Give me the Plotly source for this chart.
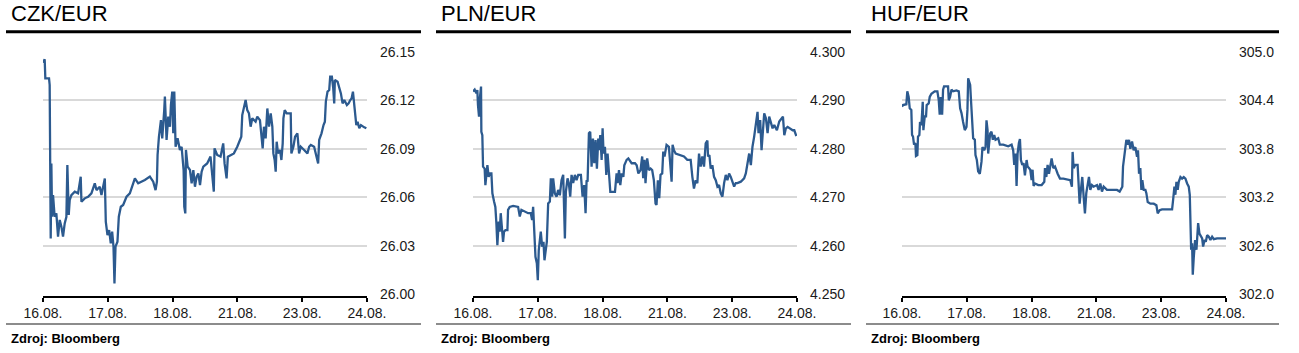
import plotly.graph_objects as go

# ---------------- data ----------------
day_labels = ["16.08.", "17.08.", "18.08.", "21.08.", "23.08.", "24.08."]

czk_day = [0.000, 0.026, 0.036, 0.093, 0.103, 0.119, 0.129, 0.140, 0.155, 0.180, 0.206, 0.232, 0.258, 0.284,
           0.309, 0.335, 0.361, 0.376, 0.397, 0.412, 0.438, 0.490, 0.541, 0.582, 0.593, 0.644, 0.696, 0.747,
           0.799, 0.825, 0.876, 0.902, 0.954, 0.969, 0.995, 1.021, 1.046, 1.067, 1.088, 1.103, 1.119, 1.149,
           1.170, 1.201, 1.237, 1.289, 1.340, 1.392, 1.418, 1.469, 1.521, 1.572, 1.649, 1.701, 1.737, 1.758,
           1.768, 1.789, 1.820, 1.840, 1.871, 1.881, 1.907, 1.933, 1.959, 1.974, 1.995, 2.010, 2.026, 2.046,
           2.077, 2.113, 2.139, 2.155, 2.170, 2.180, 2.196, 2.206, 2.232, 2.268, 2.294, 2.320, 2.345, 2.371,
           2.397, 2.423, 2.448, 2.474, 2.500, 2.533, 2.585, 2.611, 2.636, 2.647, 2.688, 2.740, 2.781, 2.802,
           2.833, 2.853, 2.894, 2.946, 2.998, 3.039, 3.060, 3.075, 3.101, 3.127, 3.152, 3.178, 3.204, 3.230,
           3.281, 3.307, 3.348, 3.369, 3.390, 3.410, 3.436, 3.462, 3.488, 3.514, 3.539, 3.555, 3.575, 3.591,
           3.606, 3.627, 3.658, 3.679, 3.699, 3.710, 3.730, 3.761, 3.797, 3.823, 3.833, 3.864, 3.890, 3.926,
           3.952, 3.978, 4.030, 4.081, 4.107, 4.133, 4.184, 4.210, 4.236, 4.246, 4.262, 4.298, 4.329, 4.350,
           4.365, 4.391, 4.417, 4.432, 4.458, 4.479, 4.494, 4.504, 4.546, 4.571, 4.597, 4.623, 4.649, 4.690,
           4.716, 4.742, 4.762, 4.783, 4.804, 4.819, 4.835, 4.855, 4.881, 4.907, 4.933, 4.958, 4.990]
czk_val = [26.1432, 26.1453, 26.1335, 26.1335, 26.1294, 26.0345, 26.0809, 26.0479, 26.0613, 26.0479, 26.0500,
           26.0356, 26.0459, 26.0418, 26.0356, 26.0438, 26.0479, 26.0799, 26.0490, 26.0582, 26.0613, 26.0634,
           26.0624, 26.0727, 26.0572, 26.0593, 26.0603, 26.0624, 26.0686, 26.0644, 26.0665, 26.0613, 26.0716,
           26.0448, 26.0366, 26.0397, 26.0314, 26.0387, 26.0294, 26.0067, 26.0294, 26.0325, 26.0479, 26.0541,
           26.0552, 26.0603, 26.0624, 26.0696, 26.0716, 26.0686, 26.0696, 26.0706, 26.0727, 26.0696, 26.0644,
           26.0696, 26.0861, 26.0974, 26.1077, 26.0964, 26.1139, 26.1222, 26.0954, 26.1098, 26.1036, 26.1170,
           26.1253, 26.0995, 26.1253, 26.0912, 26.0964, 26.0892, 26.0912, 26.0809, 26.0768, 26.0541, 26.0500,
           26.0892, 26.0789, 26.0768, 26.0686, 26.0768, 26.0665, 26.0727, 26.0747, 26.0675, 26.0758, 26.0789,
           26.0799, 26.0809, 26.0851, 26.0737, 26.0634, 26.0902, 26.0861, 26.0851, 26.0933, 26.0809, 26.0716,
           26.0851, 26.0861, 26.0871, 26.0912, 26.0954, 26.0974, 26.1108, 26.1149, 26.1201, 26.1139, 26.1119,
           26.1036, 26.1088, 26.1067, 26.1098, 26.1077, 26.0995, 26.0902, 26.1036, 26.0964, 26.1149, 26.1036,
           26.1119, 26.1036, 26.0871, 26.0830, 26.0758, 26.0943, 26.0871, 26.0892, 26.0830, 26.0933, 26.1088,
           26.1139, 26.1119, 26.1119, 26.1119, 26.0871, 26.0912, 26.0974, 26.0995, 26.0871, 26.0912, 26.0892,
           26.0871, 26.0912, 26.0923, 26.0912, 26.0871, 26.0840, 26.0809, 26.0954, 26.0995, 26.1046, 26.1067,
           26.1191, 26.1253, 26.1263, 26.1345, 26.1345, 26.1273, 26.1180, 26.1325, 26.1314, 26.1284, 26.1242,
           26.1180, 26.1201, 26.1170, 26.1180, 26.1201, 26.1211, 26.1253, 26.1180, 26.1098, 26.1046, 26.1067,
           26.1026, 26.1046, 26.1036, 26.1032, 26.1026]

pln_day = [0.000, 0.026, 0.052, 0.067, 0.077, 0.093, 0.108, 0.124, 0.129, 0.144, 0.155, 0.180, 0.191, 0.206,
           0.222, 0.242, 0.258, 0.284, 0.299, 0.325, 0.345, 0.361, 0.376, 0.397, 0.412, 0.428, 0.448, 0.464,
           0.479, 0.500, 0.531, 0.541, 0.567, 0.619, 0.696, 0.722, 0.747, 0.799, 0.851, 0.892, 0.912, 0.928,
           0.943, 0.964, 0.985, 1.000, 1.015, 1.046, 1.067, 1.088, 1.103, 1.119, 1.139, 1.160, 1.186, 1.201,
           1.222, 1.237, 1.263, 1.289, 1.314, 1.340, 1.366, 1.392, 1.418, 1.433, 1.459, 1.479, 1.500, 1.521,
           1.546, 1.572, 1.598, 1.624, 1.665, 1.691, 1.716, 1.737, 1.753, 1.768, 1.789, 1.809, 1.830, 1.851,
           1.871, 1.892, 1.912, 1.933, 1.948, 1.964, 1.985, 2.000, 2.015, 2.036, 2.057, 2.077, 2.098, 2.119,
           2.165, 2.191, 2.216, 2.232, 2.253, 2.273, 2.294, 2.320, 2.335, 2.371, 2.397, 2.448, 2.500, 2.526,
           2.552, 2.585, 2.611, 2.626, 2.647, 2.662, 2.688, 2.714, 2.740, 2.765, 2.791, 2.817, 2.832, 2.853,
           2.874, 2.894, 2.920, 2.936, 2.956, 2.987, 3.023, 3.049, 3.065, 3.080, 3.101, 3.127, 3.204, 3.256,
           3.307, 3.359, 3.385, 3.410, 3.436, 3.462, 3.488, 3.514, 3.539, 3.565, 3.591, 3.617, 3.627, 3.648,
           3.668, 3.694, 3.720, 3.746, 3.772, 3.797, 3.823, 3.849, 3.875, 3.901, 3.926, 3.952, 3.978, 4.004,
           4.030, 4.055, 4.081, 4.133, 4.184, 4.210, 4.236, 4.262, 4.288, 4.313, 4.339, 4.365, 4.391, 4.406,
           4.432, 4.453, 4.473, 4.494, 4.520, 4.546, 4.571, 4.597, 4.623, 4.649, 4.690, 4.726, 4.762, 4.783,
           4.804, 4.829, 4.855, 4.897, 4.933, 4.958, 4.984, 4.990]
pln_val = [4.2918, 4.2922, 4.2914, 4.2921, 4.2890, 4.2866, 4.2907, 4.2928, 4.2835, 4.2828, 4.2763, 4.2759,
           4.2725, 4.2749, 4.2766, 4.2742, 4.2749, 4.2749, 4.2708, 4.2691, 4.2680, 4.2646, 4.2601, 4.2650,
           4.2629, 4.2667, 4.2619, 4.2608, 4.2629, 4.2632, 4.2632, 4.2674, 4.2680, 4.2682, 4.2680, 4.2660,
           4.2674, 4.2670, 4.2667, 4.2667, 4.2653, 4.2680, 4.2646, 4.2577, 4.2564, 4.2529, 4.2591, 4.2629,
           4.2598, 4.2608, 4.2570, 4.2591, 4.2608, 4.2687, 4.2691, 4.2739, 4.2701, 4.2739, 4.2708, 4.2701,
           4.2715, 4.2704, 4.2735, 4.2746, 4.2615, 4.2711, 4.2739, 4.2729, 4.2701, 4.2746, 4.2729, 4.2746,
           4.2735, 4.2746, 4.2746, 4.2701, 4.2725, 4.2667, 4.2735, 4.2732, 4.2832, 4.2835, 4.2763, 4.2821,
           4.2770, 4.2818, 4.2759, 4.2821, 4.2797, 4.2828, 4.2777, 4.2842, 4.2790, 4.2804, 4.2746, 4.2790,
           4.2746, 4.2711, 4.2711, 4.2711, 4.2749, 4.2729, 4.2756, 4.2725, 4.2749, 4.2742, 4.2766, 4.2777,
           4.2780, 4.2770, 4.2770, 4.2766, 4.2749, 4.2756, 4.2784, 4.2739, 4.2777, 4.2729, 4.2780, 4.2756,
           4.2759, 4.2756, 4.2735, 4.2687, 4.2684, 4.2735, 4.2698, 4.2746, 4.2749, 4.2794, 4.2784, 4.2808,
           4.2804, 4.2766, 4.2732, 4.2808, 4.2797, 4.2790, 4.2787, 4.2784, 4.2777, 4.2777, 4.2742, 4.2718,
           4.2735, 4.2729, 4.2790, 4.2763, 4.2784, 4.2763, 4.2811, 4.2817, 4.2784, 4.2787, 4.2759, 4.2766,
           4.2742, 4.2735, 4.2722, 4.2725, 4.2708, 4.2701, 4.2729, 4.2746, 4.2735, 4.2749, 4.2742, 4.2732,
           4.2722, 4.2729, 4.2729, 4.2732, 4.2739, 4.2749, 4.2770, 4.2790, 4.2766, 4.2804, 4.2825, 4.2852,
           4.2876, 4.2832, 4.2859, 4.2797, 4.2832, 4.2873, 4.2863, 4.2832, 4.2866, 4.2856, 4.2842, 4.2849,
           4.2838, 4.2856, 4.2863, 4.2866, 4.2828, 4.2842, 4.2845, 4.2842, 4.2838, 4.2838, 4.2828, 4.2826]

huf_day = [0.000, 0.015, 0.067, 0.082, 0.103, 0.119, 0.144, 0.155, 0.170, 0.186, 0.206, 0.216, 0.237, 0.247,
           0.268, 0.278, 0.299, 0.320, 0.330, 0.351, 0.371, 0.381, 0.412, 0.428, 0.454, 0.505, 0.546, 0.567,
           0.582, 0.598, 0.619, 0.634, 0.649, 0.711, 0.722, 0.742, 0.763, 0.789, 0.840, 0.876, 0.897, 0.918,
           0.943, 0.969, 0.995, 1.010, 1.021, 1.036, 1.052, 1.062, 1.082, 1.098, 1.124, 1.134, 1.155, 1.175,
           1.201, 1.227, 1.242, 1.268, 1.289, 1.304, 1.320, 1.330, 1.345, 1.361, 1.381, 1.402, 1.423, 1.443,
           1.485, 1.510, 1.562, 1.639, 1.691, 1.716, 1.732, 1.753, 1.768, 1.784, 1.804, 1.820, 1.835, 1.856,
           1.876, 1.897, 1.923, 1.938, 1.959, 1.979, 2.000, 2.015, 2.031, 2.052, 2.103, 2.155, 2.196, 2.206,
           2.227, 2.247, 2.268, 2.289, 2.309, 2.335, 2.361, 2.402, 2.438, 2.490, 2.597, 2.622, 2.633, 2.648,
           2.674, 2.710, 2.725, 2.741, 2.761, 2.782, 2.803, 2.823, 2.844, 2.864, 2.885, 2.906, 2.931, 2.957,
           3.009, 3.034, 3.060, 3.086, 3.112, 3.163, 3.215, 3.266, 3.318, 3.359, 3.380, 3.400, 3.411, 3.431,
           3.447, 3.462, 3.483, 3.503, 3.524, 3.550, 3.575, 3.601, 3.627, 3.642, 3.658, 3.678, 3.694, 3.709,
           3.730, 3.756, 3.771, 3.792, 3.833, 3.885, 3.926, 3.946, 3.977, 4.013, 4.065, 4.116, 4.168, 4.183,
           4.204, 4.219, 4.235, 4.255, 4.271, 4.297, 4.322, 4.348, 4.374, 4.400, 4.425, 4.441, 4.451, 4.462,
           4.477, 4.487, 4.503, 4.523, 4.544, 4.554, 4.570, 4.590, 4.606, 4.632, 4.647, 4.668, 4.688, 4.709,
           4.735, 4.760, 4.786, 4.812, 4.863, 4.966, 5.000]
huf_val = [304.32, 304.34, 304.35, 304.51, 304.44, 304.30, 304.28, 303.97, 303.95, 303.85, 303.87, 303.71,
           303.72, 303.95, 303.97, 304.13, 304.09, 304.38, 304.03, 304.20, 304.20, 304.34, 304.36, 304.44,
           304.48, 304.51, 304.51, 304.40, 304.22, 304.44, 304.22, 304.53, 304.57, 304.57, 304.40, 304.44,
           304.53, 304.51, 304.52, 304.51, 304.30, 304.24, 304.13, 304.03, 304.07, 304.28, 304.67, 304.63,
           304.59, 304.44, 304.11, 303.93, 303.91, 303.72, 303.66, 303.52, 303.49, 303.64, 303.82, 303.78,
           303.82, 304.15, 304.03, 303.74, 303.87, 303.99, 304.01, 303.91, 303.97, 303.91, 303.93, 303.85,
           303.85, 303.83, 303.85, 303.78, 303.60, 303.74, 303.34, 303.74, 303.87, 303.92, 303.66, 303.60,
           303.62, 303.47, 303.66, 303.58, 303.56, 303.54, 303.41, 303.54, 303.34, 303.37, 303.35, 303.35,
           303.39, 303.56, 303.45, 303.60, 303.49, 303.62, 303.68, 303.56, 303.58, 303.49, 303.43, 303.43,
           303.41, 303.33, 303.76, 303.56, 303.60, 303.60, 303.33, 303.12, 303.29, 303.45, 303.21, 303.00,
           303.25, 303.33, 303.45, 303.29, 303.35, 303.33, 303.35, 303.29, 303.37, 303.27, 303.33, 303.29,
           303.29, 303.29, 303.29, 303.27, 303.31, 303.33, 303.58, 303.70, 303.78, 303.91, 303.85, 303.91,
           303.80, 303.89, 303.78, 303.82, 303.70, 303.78, 303.49, 303.56, 303.29, 303.41, 303.29, 303.29,
           303.25, 303.14, 303.12, 303.12, 303.10, 303.00, 303.04, 303.05, 303.05, 303.05, 303.05, 303.16,
           303.33, 303.23, 303.39, 303.29, 303.39, 303.45, 303.43, 303.45, 303.43, 303.37, 303.33, 303.23,
           302.88, 302.55, 302.63, 302.24, 302.46, 302.67, 302.55, 302.75, 302.88, 302.75, 302.73, 302.69,
           302.59, 302.67, 302.65, 302.73, 302.71, 302.67, 302.71, 302.68, 302.69, 302.69, 302.69]

titles = ["CZK/EUR", "PLN/EUR", "HUF/EUR"]
source_text = "Zdroj: Bloomberg"
czk_ticks = [26.00, 26.03, 26.06, 26.09, 26.12, 26.15]
pln_ticks = [4.250, 4.260, 4.270, 4.280, 4.290, 4.300]
huf_ticks = [302.0, 302.6, 303.2, 303.8, 304.4, 305.0]

# ---------------- layout helpers ----------------
W, H = 1299, 353
LINE_COLOR = "#2C5A8F"
FONT = "Liberation Sans, Arial, sans-serif"

def px(x):
    return x / W

def py(y):
    return 1 - y / H

panels = [
    dict(off=0, plot=(43, 367), rule=(6, 421), x=czk_day, y=czk_val, ticks=czk_ticks, fmt=".2f"),
    dict(off=430, plot=(473, 797), rule=(436, 851), x=pln_day, y=pln_val, ticks=pln_ticks, fmt=".3f"),
    dict(off=860, plot=(902, 1226), rule=(866, 1279), x=huf_day, y=huf_val, ticks=huf_ticks, fmt=".1f"),
]

fig = go.Figure()
shapes = []
annotations = []
layout_axes = {}

for i, p in enumerate(panels):
    n = "" if i == 0 else str(i + 1)
    fig.add_trace(go.Scatter(x=p["x"], y=p["y"], mode="lines",
                             line=dict(color=LINE_COLOR, width=2.3),
                             xaxis="x" + n, yaxis="y" + n,
                             hoverinfo="skip", showlegend=False))
    tv = p["ticks"]
    layout_axes["xaxis" + n] = dict(
        domain=[px(p["plot"][0]), px(p["plot"][1])], range=[0, 5],
        anchor="free", position=py(296.5),
        tickvals=list(range(len(day_labels))), ticktext=day_labels,
        showgrid=False, zeroline=False, showline=True, linecolor="black", linewidth=2,
        ticks="outside", ticklen=4, tickwidth=2, tickcolor="black",
        tickfont=dict(family=FONT, size=14, color="#1a1a1a"), automargin=False,
        fixedrange=True)
    layout_axes["yaxis" + n] = dict(
        domain=[py(294.2), py(51.7)], range=[tv[0], tv[-1]],
        anchor="x" + n, side="right",
        tickvals=tv, ticktext=[format(v, p["fmt"]) for v in tv],
        showgrid=True, gridcolor="#d9d9d9", gridwidth=2, zeroline=False,
        showline=False, ticks="", ticklabelstandoff=12,
        tickfont=dict(family=FONT, size=14, color="#1a1a1a"), automargin=False,
        fixedrange=True)
    # black rule under title
    shapes.append(dict(type="line", xref="paper", yref="paper",
                       x0=px(p["rule"][0]), x1=px(p["rule"][1]), y0=py(31.7), y1=py(31.7),
                       line=dict(color="black", width=3)))
    # grey rule above source
    shapes.append(dict(type="line", xref="paper", yref="paper",
                       x0=px(p["rule"][0]), x1=px(p["rule"][1]), y0=py(324), y1=py(324),
                       line=dict(color="#8c8c8c", width=2)))
    annotations.append(dict(text=titles[i], xref="paper", yref="paper",
                            x=px(p["off"] + 9), y=py(13.5), xanchor="left", yanchor="middle",
                            showarrow=False, font=dict(family=FONT, size=22, color="black")))
    annotations.append(dict(text="<b>" + source_text + "</b>", xref="paper", yref="paper",
                            x=px(p["off"] + 9), y=py(338.5), xanchor="left", yanchor="middle",
                            showarrow=False, font=dict(family=FONT, size=13, color="black")))

fig.update_layout(width=W, height=H, autosize=False,
                  margin=dict(l=0, r=0, t=0, b=0),
                  paper_bgcolor="white", plot_bgcolor="white",
                  shapes=shapes, annotations=annotations, **layout_axes)

fig.write_html("out.html", config={"displayModeBar": False})
